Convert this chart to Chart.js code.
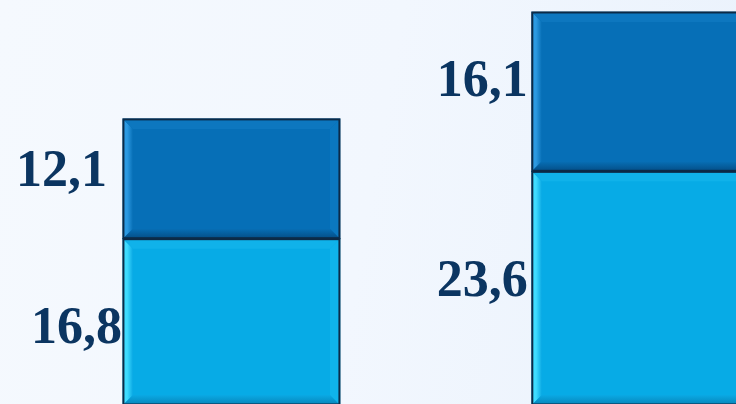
<!DOCTYPE html>
<html>
<head>
<meta charset="utf-8">
<script src="https://cdn.jsdelivr.net/npm/chart.js@4.4.0/dist/chart.umd.min.js"></script>
<style>
  html, body { margin: 0; padding: 0; }
  body {
    width: 736px; height: 404px; overflow: hidden;
    background: linear-gradient(100deg, #f5f9fe 0%, #f2f7fe 50%, #eaf2fc 100%);
  }
  #wrap { position: relative; width: 736px; height: 404px; }
</style>
</head>
<body>
<div id="wrap"><canvas id="chart" width="736" height="404"></canvas></div>
<script>
// data
const categories = ["1", "2"];
const lowerValues = [16.8, 23.6];
const upperValues = [12.1, 16.1];
const lowerLabels = ["16,8", "23,6"];
const upperLabels = ["12,1", "16,1"];

const NAVY = "#0b3561";
const EDGE = "#0c2a47";

// bevel look on each bar segment
const bevelPlugin = {
    id: "bevel",
    afterDatasetsDraw(chart) {
        const ctx = chart.ctx;
        const b = 9;
        chart.data.datasets.forEach((ds, di) => {
            const meta = chart.getDatasetMeta(di);
            meta.data.forEach(bar => {
                const l = bar.x - bar.width / 2 + 1, r = bar.x + bar.width / 2 - 1;
                const t = Math.min(bar.y, bar.base) + 1, bt = Math.max(bar.y, bar.base) - 1;
                ctx.save();
                ctx.beginPath();
                ctx.rect(chart.chartArea.left, chart.chartArea.top,
                    chart.chartArea.right - chart.chartArea.left, chart.chartArea.bottom - chart.chartArea.top);
                ctx.clip();
                // left highlight
                const gl = ctx.createLinearGradient(l, 0, l + b, 0);
                gl.addColorStop(0, ds.bevelLight);
                gl.addColorStop(0.35, ds.bevelLight);
                gl.addColorStop(1, ds.bevelMid);
                ctx.fillStyle = gl;
                ctx.beginPath();
                ctx.moveTo(l, t); ctx.lineTo(l + b, t + b); ctx.lineTo(l + b, bt - b); ctx.lineTo(l, bt);
                ctx.closePath(); ctx.fill();
                // top
                ctx.fillStyle = ds.bevelTop;
                ctx.beginPath();
                ctx.moveTo(l, t); ctx.lineTo(r, t); ctx.lineTo(r - b, t + b); ctx.lineTo(l + b, t + b);
                ctx.closePath(); ctx.fill();
                // right
                ctx.fillStyle = ds.bevelRight;
                ctx.beginPath();
                ctx.moveTo(r, t); ctx.lineTo(r, bt); ctx.lineTo(r - b, bt - b); ctx.lineTo(r - b, t + b);
                ctx.closePath(); ctx.fill();
                // bottom shade
                const gb = ctx.createLinearGradient(0, bt - b, 0, bt);
                gb.addColorStop(0, ds.bevelMid);
                gb.addColorStop(1, ds.bevelDark);
                ctx.fillStyle = gb;
                ctx.beginPath();
                ctx.moveTo(l, bt); ctx.lineTo(r, bt); ctx.lineTo(r - b, bt - b); ctx.lineTo(l + b, bt - b);
                ctx.closePath(); ctx.fill();
                // outline
                ctx.strokeStyle = EDGE;
                ctx.lineWidth = 2;
                ctx.strokeRect(l - 0.5, t - 0.5, r - l + 1, bt - t + 1);
                ctx.restore();
            });
        });
    }
};

// value labels to the left of each segment
const labelPlugin = {
    id: "sideLabels",
    afterDraw(chart, args, opts) {
        const ctx = chart.ctx;
        ctx.save();
        ctx.font = "bold 52px 'Liberation Serif', 'DejaVu Serif', serif";
        ctx.fillStyle = NAVY;
        ctx.textAlign = "right";
        ctx.textBaseline = "middle";
        chart.data.datasets.forEach((ds, di) => {
            const meta = chart.getDatasetMeta(di);
            meta.data.forEach((bar, i) => {
                const off = opts.offsets[di][i];
                const left = bar.x - bar.width / 2;
                const mid = (bar.y + bar.base) / 2;
                ctx.fillText(ds.valueLabels[i], left - off[0], mid + off[1]);
            });
        });
        ctx.restore();
    }
};

const ctx = document.getElementById("chart");
new Chart(ctx, {
    type: "bar",
    data: {
        datasets: [
            {
                label: "lower",
                data: lowerValues.map((v, i) => ({ x: i + 1, y: v })),
                valueLabels: lowerLabels,
                backgroundColor: "#07abe6",
                bevelLight: "#3fdcff",
                bevelMid: "#0aa9e4",
                bevelTop: "#10b2ea",
                bevelRight: "#0fb3eb",
                bevelDark: "#0788bd",
            },
            {
                label: "upper",
                data: upperValues.map((v, i) => ({ x: i + 1, y: v })),
                valueLabels: upperLabels,
                backgroundColor: "#066fb7",
                bevelLight: "#2c9ae2",
                bevelMid: "#076fb6",
                bevelTop: "#0d77bf",
                bevelRight: "#0b78c0",
                bevelDark: "#04508a",
            },
        ],
    },
    options: {
        responsive: false,
        animation: false,
        devicePixelRatio: 1,
        layout: { padding: 0 },
        datasets: { bar: { barThickness: 217, borderWidth: 0 } },
        scales: {
            x: { type: "linear", stacked: true, display: false, offset: false,
                 grid: { offset: false }, min: 0.434, max: 2.234 },
            y: { stacked: true, display: false, min: 0.1, max: 40.91 },
        },
        plugins: {
            legend: { display: false },
            tooltip: { enabled: false },
            sideLabels: {
                offsets: [
                    [[1, 8], [4, -6]],
                    [[16, -6], [4, -9]],
                ],
            },
        },
    },
    plugins: [bevelPlugin, labelPlugin],
});
</script>
</body>
</html>
